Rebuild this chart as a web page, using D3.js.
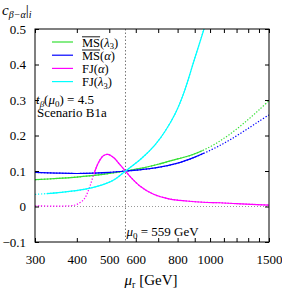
<!DOCTYPE html>
<html>
<head>
<meta charset="utf-8">
<script src="https://cdn.jsdelivr.net/npm/d3@7"></script>
<style>
  body { margin: 0; background: #fff; }
  text { font-family: "Liberation Serif", "DejaVu Serif", serif; }
</style>
</head>
<body>
<div id="viz"></div>
<script>
// values: [mu_r in GeV, c_{beta-alpha}]
var msLam3 = [[300,.0755],[350,.079],[400,.083],[465,.089],[500,.093],[559,.1],[625,.108],[700,.119],[800,.134],[880,.145],[1000,.168],[1100,.192],[1200,.218],[1300,.245],[1400,.272],[1500,.298]];
var msAlpha = [[300,.096],[350,.094],[400,.093],[450,.094],[500,.096],[559,.1],[625,.104],[700,.110],[800,.122],[900,.139],[1000,.158],[1100,.178],[1200,.199],[1300,.22],[1400,.24],[1500,.258]];
var fjAlpha = [[300,.002],[380,.002],[400,.006],[420,.02],[435,.05],[450,.092],[465,.125],[480,.143],[495,.147],[515,.138],[538,.118],[559,.1],[580,.082],[617,.058],[676,.035],[759,.021],[851,.0155],[954,.012],[1070,.0105],[1200,.008],[1500,.004]];
var fjLam3 = [[300,.034],[360,.040],[420,.048],[490,.065],[520,.077],[559,.1],[625,.136],[684,.173],[734,.212],[790,.265],[835,.32],[895,.41],[959,.5],[1000,.56]];

// range of mu_r where each curve is drawn solid (dotted elsewhere)
var solidRanges = [[300,950],[300,960],[450,1500],[325,1100]];
var seriesNames = ["MS(λ3)","MS(α)","FJ(α)","FJ(λ3)"];
var seriesData = [msLam3, msAlpha, fjAlpha, fjLam3];
var colors = ["#33e033","#0000ff","#ff00ff","#00ffff"];

var xTicks = d3.range(300, 1600, 100);
var xLabels = [300,400,500,600,800,1000,1500];
var yTicks = [-0.1,0,0.1,0.2,0.3,0.4,0.5];
var mu0 = 559;

var W = 282, H = 289;
var margin = {top: 29, right: 13, bottom: 47, left: 35},
    width = W - margin.left - margin.right,
    height = H - margin.top - margin.bottom;

var svg = d3.select("#viz")
  .append("svg")
    .attr("width", W)
    .attr("height", H)
  .append("g")
    .attr("transform", "translate(" + margin.left + "," + margin.top + ")");

var x = d3.scaleLog().domain([300, 1500]).range([0, width]);
var y = d3.scaleLinear().domain([-0.1, 0.5]).range([height, 0]);

svg.append("clipPath").attr("id", "plotclip")
  .append("rect").attr("width", width).attr("height", height);

// zero line and mu0 line
svg.append("line")
    .attr("x1", 0).attr("x2", width)
    .attr("y1", y(0)).attr("y2", y(0))
    .attr("stroke", "#999").attr("stroke-dasharray", "1,2");
svg.append("line")
    .attr("x1", x(mu0)).attr("x2", x(mu0))
    .attr("y1", 0).attr("y2", height)
    .attr("stroke", "#777").attr("stroke-dasharray", "1.5,2");

var line = d3.line()
    .x(function(d) { return x(d[0]); })
    .y(function(d) { return y(d[1]); })
    .curve(d3.curveCatmullRom);

seriesData.forEach(function(data, i) {
  var r = solidRanges[i];
  svg.append("clipPath").attr("id", "solid" + i)
    .append("rect")
      .attr("x", x(r[0])).attr("width", x(r[1]) - x(r[0]))
      .attr("y", 0).attr("height", height);
  var g = svg.append("g").attr("clip-path", "url(#plotclip)");
  g.append("path").datum(data)
    .attr("d", line)
    .attr("fill", "none")
    .attr("stroke", colors[i])
    .attr("stroke-width", 1.2)
    .attr("stroke-dasharray", "1.3,1.7");
  g.append("g").attr("clip-path", "url(#solid" + i + ")")
    .append("path").datum(data)
    .attr("d", line)
    .attr("fill", "none")
    .attr("stroke", colors[i])
    .attr("stroke-width", 1.2);
});

// axes, ticks pointing inwards
var fmtX = function(d) { return xLabels.indexOf(d) >= 0 ? d : ""; };
var fmtY = function(d) { return d < 0 ? "\u2212" + Math.abs(d) : (d === 0 ? "0" : d); };

svg.append("g")
    .attr("transform", "translate(0," + height + ")")
    .call(d3.axisBottom(x).tickValues(xTicks).tickFormat(fmtX).tickSize(-4).tickPadding(13));
svg.append("g")
    .call(d3.axisTop(x).tickValues(xTicks).tickFormat("").tickSize(-4));
svg.append("g")
    .call(d3.axisLeft(y).tickValues(yTicks).tickFormat(fmtY).tickSize(-4).tickPadding(9));
svg.append("g")
    .attr("transform", "translate(" + width + ",0)")
    .call(d3.axisRight(y).tickValues(yTicks).tickFormat("").tickSize(-4));

svg.selectAll(".domain").remove();
svg.selectAll(".tick text").attr("font-size", 13).attr("font-family", "Liberation Serif").attr("fill", "#000");
svg.append("rect")
    .attr("width", width).attr("height", height)
    .attr("fill", "none").attr("stroke", "#000").attr("stroke-width", 1);

// legend
var legend = svg.append("g").attr("transform", "translate(17,13)");
seriesNames.forEach(function(name, i) {
  var row = legend.append("g").attr("transform", "translate(0," + (i * 13.2) + ")");
  row.append("line").attr("x1", 0).attr("x2", 21)
    .attr("stroke", colors[i]).attr("stroke-width", 1.2);
  var t = row.append("text").attr("x", 30).attr("y", 4.5).attr("font-size", 12.5);
  var parts = name.split("(");
  var head = t.append("tspan").text(parts[0]);
  t.append("tspan").text("(");
  var inner = parts[1].replace(")", "");
  if (inner === "λ3") {
    t.append("tspan").attr("font-style", "italic").text("λ");
    t.append("tspan").attr("font-size", 8.5).attr("dy", 2.5).text("3");
    t.append("tspan").attr("dy", -2.5).text(")");
  } else {
    t.append("tspan").attr("font-style", "italic").text("α");
    t.append("tspan").text(")");
  }
  if (parts[0] === "MS") {
    var w = head.node().getComputedTextLength();
    row.append("line")
      .attr("x1", 30).attr("x2", 30 + w)
      .attr("y1", -5.2).attr("y2", -5.2)
      .attr("stroke", "#000").attr("stroke-width", 0.9);
  }
});

// annotations
var ann = svg.append("text").attr("x", 1).attr("y", 75).attr("font-size", 13);
ann.append("tspan").attr("font-style", "italic").text("t");
ann.append("tspan").attr("font-style", "italic").attr("font-size", 9).attr("dy", 3).text("β");
ann.append("tspan").attr("dy", -3).text("(");
ann.append("tspan").attr("font-style", "italic").text("μ");
ann.append("tspan").attr("font-size", 9).attr("dy", 3).text("0");
ann.append("tspan").attr("dy", -3).text(") = 4.5");
svg.append("text").attr("x", 2).attr("y", 88).attr("font-size", 13).text("Scenario B1a");

var m0 = svg.append("text").attr("x", x(mu0) + 1).attr("y", height - 6).attr("font-size", 13);
m0.append("tspan").attr("font-style", "italic").text("μ");
m0.append("tspan").attr("font-size", 9).attr("dy", 3).text("0");
m0.append("tspan").attr("dy", -3).text(" = 559 GeV");

// axis titles
var xt = svg.append("text").attr("x", 116).attr("y", height + 43).attr("font-size", 15).attr("text-anchor", "middle");
xt.append("tspan").attr("font-style", "italic").text("μ");
xt.append("tspan").attr("font-size", 10).attr("dy", 3).text("r");
xt.append("tspan").attr("dy", -3).text(" [GeV]");

var yt = svg.append("text").attr("x", -33).attr("y", -14).attr("font-size", 15);
yt.append("tspan").attr("font-style", "italic").text("c");
yt.append("tspan").attr("font-style", "italic").attr("font-size", 10).attr("dy", 3).text("β−α");
yt.append("tspan").attr("dy", -3).text("|");
yt.append("tspan").attr("font-style", "italic").attr("font-size", 10).attr("dy", 3).text("i");
</script>
</body>
</html>
